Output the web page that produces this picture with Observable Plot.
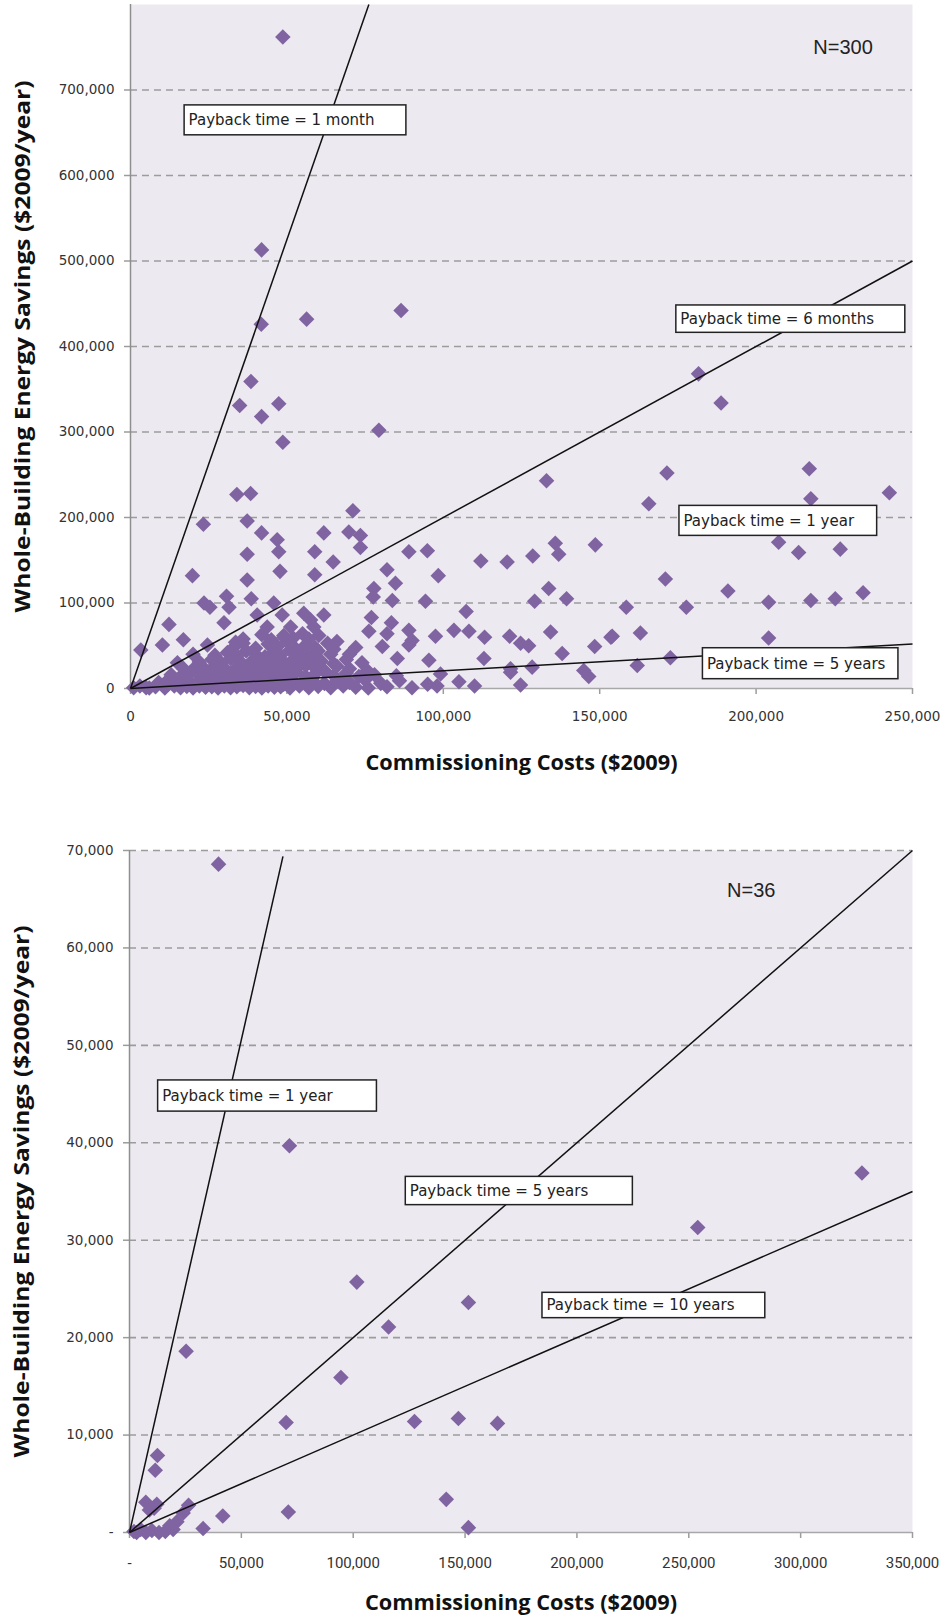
<!DOCTYPE html>
<html><head><meta charset="utf-8">
<script src="https://cdn.jsdelivr.net/npm/d3@7"></script>
<script src="https://cdn.jsdelivr.net/npm/@observablehq/plot@0.6"></script>
<style>
body{margin:0;background:#fff;}
#chart svg{display:block;}
</style></head><body><div id="chart"></div>
<script>
// ---------- DATA (values in $ thousands) ----------
// Top panel: N=300, [commissioning cost, annual savings]
const topPoints = [
[48.7,762],[41.9,513],[41.8,426],[56.3,432],[86.5,442],[38.5,359],[34.9,331],[47.4,333],[41.9,318],[79.4,302],[48.7,288],
[34,227],[38.4,228],[23.3,192],[37.3,196],[41.9,182],[46.9,174],[47.4,160],[37.3,157],[58.9,160],[61.8,182],[47.8,137],[58.9,133],[19.8,132],[37.3,127],[30.7,108],[23.5,100],[25.4,95],[31.5,95],[38.6,105],[45.8,100],[48.5,86],[40.5,86],[12.3,75],[16.9,57],[29.9,77],[3.3,45],[10.2,51],[24.6,51],[33.6,54],[61.8,86],[57.6,80],
[55.4,88],[58.6,72],[60.2,62],[49,60],[43.7,72],[51.2,72],
[133,243],[71.1,208],[69.8,183],[73.5,179],[73.5,165],[64.8,148],[89,160],[94.9,161],[112,149],[120.4,148],[128.6,155],[135.8,170],[136.9,157],[148.6,168],[82,139],[98.4,132],[84.7,123],[77.8,117],[77.6,107],[83.7,103],[94.3,102],[133.7,117],[129.2,102],[139.4,105],[107.3,90],[77,83],[83.4,77],[76.2,67],[82,64],[89,68],[90,56],[97.5,61],[103.4,68],[108.2,67],[113.2,60],[121.2,61],[124.7,53],[127.3,50],[134.3,66],[148.4,49],[153.6,60],[80.5,49],[89,51],[85.3,35],[95.4,33],[113,35],[138,41],[121.5,23],[128.4,25],[144.9,21],[99.1,17],[75.7,21],
[181.6,368],[188.8,334],[171.5,252],[217,257],[217.5,222],[242.6,229],[165.7,216],[207.2,171],[213.6,159],[226.9,163],[171,128],[191,114],[158.5,95],[177.7,95],[204,101],[217.5,103],[225.3,105],[234.2,112],[154,61],[163,65],[204,59],[162,27],[172.6,36],
[121.5,19],[124.7,4],[146.5,14],
[5,1],[8,2],[11,0.5],[14,3],[16,1],[18,2.5],[20,0.5],[22,3],[24,1.5],[26,2],[28,0.5],[30,3],[32,1],[34,2],[36,3.5],[38,1],[40,2.5],[42,0.5],[44,3],[46,1.5],[48,2],[51,0.5],[54,3],[57,1],[60,2.5],[64,1],[68,3],[72,1.5],[76,0.5],[82,2],[90,1],[98,3],
[9,7],[12,10],[15,6],[17,11],[19,8],[21,5],[23,12],[25,8],[27,6],[29,10],[31,7],[33,11],[35,5],[37,9],[39,12],[41,6],[43,10],[45,8],[47,11],[49,5],[52,9],[55,7],[58,11],[62,6],[66,9],[70,7],[75,10],[80,6],[86,9],
[13,16],[16,14],[19,18],[22,15],[24,19],[26,13],[28,17],[30,20],[32,14],[34,18],[36,15],[38,19],[40,13],[42,17],[44,20],[46,14],[48,18],[50,16],[53,19],[56,14],[59,17],[62,20],[65,15],[69,18],[73,14],[78,16],
[17,23],[21,26],[24,22],[27,27],[30,24],[33,21],[35,28],[37,25],[39,22],[41,27],[43,24],[45,28],[47,22],[50,26],[53,23],[56,27],[59,24],[62,21],[66,26],[70,23],
[22,31],[26,34],[29,30],[32,35],[35,32],[38,29],[40,36],[42,33],[44,30],[46,35],[49,31],[52,34],[55,30],[58,36],[61,32],[65,29],[69,34],
[27,39],[31,42],[34,38],[37,44],[40,40],[43,37],[46,43],[48,39],[51,45],[54,41],[57,38],[60,44],[64,40],
[33,48],[36,53],[40,47],[44,52],[47,49],[50,55],[53,46],[56,51],[59,48],[63,53],
[36,58],[42,63],[45,57],[49,62],[52,59],[55,64],
[1,1],[3,3],[6,0.5],[65,46],[70,40],[72,48],[74,30],[68,12],[85,15],[95,5],[105,8],[110,3],[60,30],[57,58],[66,55],[20,40],[15,30]
];
// Bottom panel: N=36
const bottomPoints = [
[39.8,68.6],[71.5,39.7],[25.3,18.6],[101.6,25.7],[94.5,15.9],[115.8,21.1],[151.5,23.6],[70,11.3],[127.4,11.4],[147,11.7],[164.5,11.2],
[12.5,7.9],[11.5,6.4],[7.3,3.1],[12.2,2.9],[8.9,2.3],[26.4,2.8],[41.7,1.7],[71,2.1],[141.6,3.4],[21.2,1.1],[151.5,0.5],
[327.4,36.9],[254,31.3],[18,0.7],[32.9,0.4],[3.2,0],[7.3,0],[13.2,0],[16,0.1],[5,0.3],[10,0.2],[11,2.5],[24,2.0],[2,0.1],[19.5,0.3]
];

// Payback lines (drawn from the origin to these end points)
const topLineCost = [76.2, 250, 250];
const topLineSav  = [800, 500, 52];
const bottomLineCost = [68.6, 350, 350];
const bottomLineSav  = [69.4, 70, 35];

// Label boxes (data extent)
const topLabels = ["Payback time = 1 month","Payback time = 6 months","Payback time = 1 year","Payback time = 5 years"];
const topLabelCost1 = [17.3, 174.5, 175.5, 183];
const topLabelCost2 = [88.2, 247.7, 238.7, 245.5];
const topLabelSav1  = [647, 416, 178.5, 10.9];
const topLabelSav2  = [682, 448, 213.6, 47.1];
const bottomLabels = ["Payback time = 1 year","Payback time = 5 years","Payback time = 10 years"];
const bottomLabelCost1 = [12.8, 123.5, 184.6];
const bottomLabelCost2 = [110.6, 225, 284.2];
const bottomLabelSav1  = [43.2, 33.6, 22.0];
const bottomLabelSav2  = [46.4, 36.5, 24.6];

const topN = {text: "N=300", cost: 227.8, sav: 750};
const bottomN = {text: "N=36", cost: 277.9, sav: 65.9};

const topXTicks = [0,50,100,150,200,250];
const topYTicks = [0,100,200,300,400,500,600,700];
const bottomXTicks = [0,50,100,150,200,250,300,350];
const bottomYTicks = [0,10,20,30,40,50,60,70];

const xTitle = "Commissioning Costs ($2009)";
const yTitle = "Whole-Building Energy Savings ($2009/year)";

// ---------- BUILD ----------
const K = 1000;
const fmt = d3.format(",");
const toPts = arr => arr.map(([c, s]) => ({cost: c*K, sav: s*K}));
const toLines = (cs, ss) => cs.map((c, i) => ({x1: 0, y1: 0, x2: c*K, y2: ss[i]*K}));
const toBoxes = (l, c1, c2, s1, s2) => l.map((t, i) => ({label: t, x1: c1[i]*K, x2: c2[i]*K, y1: s1[i]*K, y2: s2[i]*K}));

function panel(o) {
  const svg = Plot.plot({
    width: 946, height: o.height,
    marginTop: o.mt, marginBottom: o.mb, marginLeft: o.ml, marginRight: o.mr,
    style: {fontFamily: "DejaVu Sans", fontSize: "13.5px", background: "white", overflow: "visible"},
    x: {domain: o.xDomain, label: null},
    y: {domain: o.yDomain, label: null},
    marks: [
      Plot.frame({fill: "#EDE9F0", stroke: null}),
      Plot.ruleY(o.yTicks.filter(d => d > 0), {stroke: "#9c9c9c", strokeWidth: 1.6, strokeDasharray: "7,5"}),
      Plot.axisY({ticks: o.yTicks, tickSize: 6, tickPadding: 10, tickFormat: o.yFmt, stroke: "#9c9c9c", strokeWidth: 1.5, fill: "#333", label: null}),
      Plot.axisX({ticks: o.xTicks, tickSize: 6, tickPadding: o.xPad, tickFormat: o.xFmt, stroke: "#9c9c9c", strokeWidth: 1.5, fill: "#333", label: null, fontFamily: o.xFont, fontSize: o.xFontSize}),
      Plot.ruleX([0], {stroke: "#8e8e8e", strokeWidth: 1.5}),
      Plot.ruleY([0], {stroke: "#a8a8a8", strokeWidth: 1.5}),
      Plot.dot(o.pts, {x: "cost", y: "sav", symbol: "diamond2", r: 7, fill: "#8064A2", stroke: "none"}),
      Plot.link(o.lines, {x1: "x1", y1: "y1", x2: "x2", y2: "y2", stroke: "#111", strokeWidth: 1.5}),
      Plot.rect(o.boxes, {x1: "x1", x2: "x2", y1: "y1", y2: "y2", fill: "white", stroke: "#222", strokeWidth: 1.5}),
      Plot.text(o.boxes, {x: "x1", y: d => (d.y1 + d.y2) / 2, text: "label", textAnchor: "start", dx: 4, fontSize: 15, fontFamily: "DejaVu Sans", fill: "#222"}),
      Plot.text([o.n], {x: d => d.cost*K, y: d => d.sav*K, text: "text", fontSize: 20, fontFamily: "Liberation Sans", fill: "#222"}),
      Plot.text([xTitle], {frameAnchor: "bottom", textAnchor: "middle", lineAnchor: "middle", dy: o.xTitleDy, fontSize: 20.5, fontWeight: "bold", fontFamily: "Open Sans", fill: "#111"}),
      Plot.text([yTitle], {frameAnchor: "left", textAnchor: "middle", lineAnchor: "middle", rotate: -90, dx: -107, fontSize: 20.5, fontWeight: "bold", fontFamily: "Open Sans", fill: "#111"})
    ]
  });
  // fit the titles to the reference's measured lengths
  d3.select(svg).selectAll("text").each(function() {
    if (this.textContent === xTitle) { this.setAttribute("textLength", 312); this.setAttribute("lengthAdjust", "spacingAndGlyphs"); }
    if (this.textContent === yTitle) { this.setAttribute("textLength", 532); this.setAttribute("lengthAdjust", "spacingAndGlyphs"); }
  });
  return svg;
}

const topChart = panel({
  height: 790, mt: 4, mb: 102, ml: 130, mr: 34,
  xDomain: [0, 250*K], yDomain: [0, 800*K],
  xTicks: topXTicks.map(d => d*K), yTicks: topYTicks.map(d => d*K),
  xFmt: d => fmt(d), yFmt: d => fmt(d), xPad: 17, xFont: "DejaVu Sans", xFontSize: 13.5,
  pts: toPts(topPoints), lines: toLines(topLineCost, topLineSav),
  boxes: toBoxes(topLabels, topLabelCost1, topLabelCost2, topLabelSav1, topLabelSav2),
  n: topN, xTitleDy: 75
});
const bottomChart = panel({
  height: 828, mt: 60, mb: 86, ml: 129, mr: 34,
  xDomain: [0, 350*K], yDomain: [0, 70*K],
  xTicks: bottomXTicks.map(d => d*K), yTicks: bottomYTicks.map(d => d*K),
  xFmt: d => d === 0 ? "-" : fmt(d), yFmt: d => d === 0 ? "-" : fmt(d), xPad: 19, xFont: "Liberation Sans Narrow, Roboto", xFontSize: 15,
  pts: toPts(bottomPoints), lines: toLines(bottomLineCost, bottomLineSav),
  boxes: toBoxes(bottomLabels, bottomLabelCost1, bottomLabelCost2, bottomLabelSav1, bottomLabelSav2),
  n: bottomN, xTitleDy: 71
});
document.getElementById("chart").append(topChart, bottomChart);
</script></body></html>
